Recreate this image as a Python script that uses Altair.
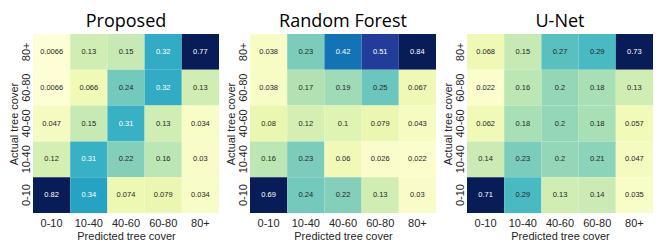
import altair as alt
import pandas as pd

pred_labels = ["0-10", "10-40", "40-60", "60-80", "80+"]
actual_labels = ["80+", "60-80", "40-60", "10-40", "0-10"]  # top to bottom
titles = ["Proposed", "Random Forest", "U-Net"]

proposed = [
    [0.0066, 0.13, 0.15, 0.32, 0.77],
    [0.0066, 0.066, 0.24, 0.32, 0.13],
    [0.047, 0.15, 0.31, 0.13, 0.034],
    [0.12, 0.31, 0.22, 0.16, 0.03],
    [0.82, 0.34, 0.074, 0.079, 0.034],
]
random_forest = [
    [0.038, 0.23, 0.42, 0.51, 0.84],
    [0.038, 0.17, 0.19, 0.25, 0.067],
    [0.08, 0.12, 0.1, 0.079, 0.043],
    [0.16, 0.23, 0.06, 0.026, 0.022],
    [0.69, 0.24, 0.22, 0.13, 0.03],
]
unet = [
    [0.068, 0.15, 0.27, 0.29, 0.73],
    [0.022, 0.16, 0.2, 0.18, 0.13],
    [0.062, 0.18, 0.2, 0.18, 0.057],
    [0.14, 0.23, 0.2, 0.21, 0.047],
    [0.71, 0.29, 0.13, 0.14, 0.035],
]
matrices = [proposed, random_forest, unet]

ylgnbu = ["#ffffd9", "#edf8b1", "#c7e9b4", "#7fcdbb", "#41b6c4",
          "#1d91c0", "#225ea8", "#253494", "#081d58"]
vmax = 0.6
stops = [vmax * i / 8 for i in range(9)]


def panel(title, mat):
    rows = []
    for i, a in enumerate(actual_labels):
        for j, p in enumerate(pred_labels):
            rows.append({"actual": a, "pred": p, "v": mat[i][j]})
    df = pd.DataFrame(rows)
    base = alt.Chart(df).encode(
        x=alt.X("pred:N", sort=pred_labels, title="Predicted tree cover",
                axis=alt.Axis(labelAngle=0, labelPadding=4, titlePadding=2)),
        y=alt.Y("actual:N", sort=actual_labels, title="Actual tree cover",
                axis=alt.Axis(labelAngle=270, labelPadding=2, titlePadding=1)),
    )
    rect = base.mark_rect().encode(
        color=alt.Color("v:Q", scale=alt.Scale(domain=stops, range=ylgnbu, clamp=True),
                        legend=None)
    )
    text = base.mark_text(fontSize=7.5, font="Liberation Sans").encode(
        text=alt.Text("v:Q", format=".2~g"),
        color=alt.condition("datum.v > 0.3", alt.value("white"), alt.value("#262626")),
    )
    return (rect + text).properties(
        width=186, height=179,
        title=alt.Title(title, fontSize=18, font="Open Sans", fontWeight="normal",
                        anchor="middle", offset=3, color="black"),
    )


chart = alt.hconcat(*[panel(t, m) for t, m in zip(titles, matrices)], spacing=6).properties(
    padding={"left": 0, "right": 0, "top": 5, "bottom": 0}
).configure_view(stroke=None).configure_axis(
    domain=False, ticks=False, labelFontSize=11, titleFontSize=11,
    titleFontWeight="normal", labelColor="#262626", titleColor="#262626",
    labelFont="Liberation Sans", titleFont="Liberation Sans",
).resolve_scale(color="independent")

chart.save("out.html", embed_options={"renderer": "svg", "actions": False})
